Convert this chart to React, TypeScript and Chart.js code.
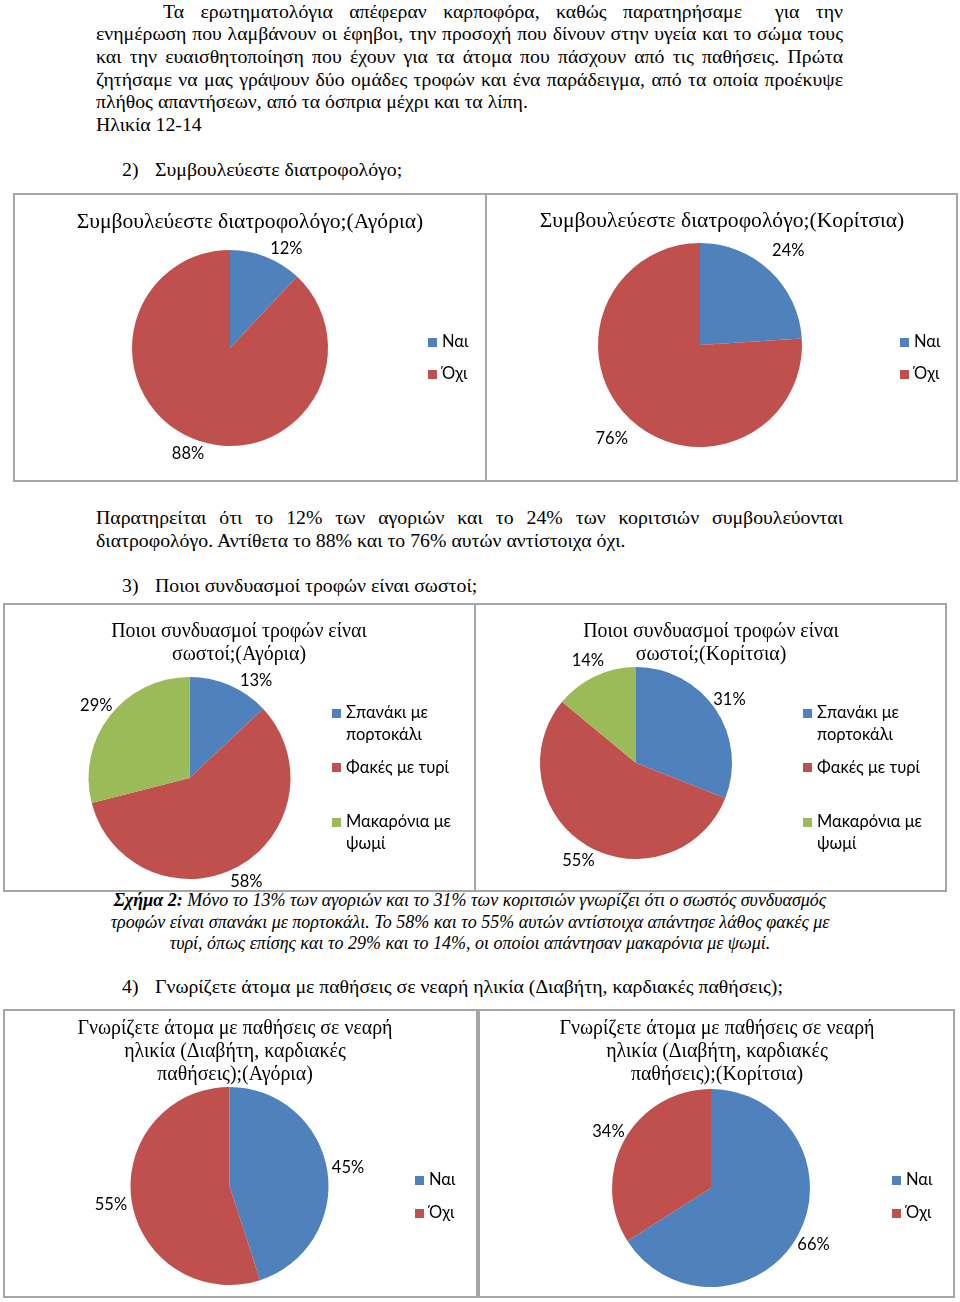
import React, { useEffect, useRef } from 'react';
import { Chart, registerables } from 'chart.js';

Chart.register(...registerables);

// ---------- DATA ----------
const yesNoLabels = ['Ναι', 'Όχι'];
const comboLabels = ['Σπανάκι με πορτοκάλι', 'Φακές με τυρί', 'Μακαρόνια με ψωμί'];

const nutritionistBoys = [12, 88];
const nutritionistGirls = [24, 76];
const comboBoys = [13, 58, 29];
const comboGirls = [31, 55, 14];
const diseaseBoys = [45, 55];
const diseaseGirls = [66, 34];

const introLines = [
  'Τα ερωτηματολόγια απέφεραν καρποφόρα, καθώς παρατηρήσαμε\u00A0 για την',
  'ενημέρωση που λαμβάνουν οι έφηβοι, την προσοχή που δίνουν στην υγεία και το σώμα τους',
  'και την ευαισθητοποίηση που έχουν για τα άτομα που πάσχουν από τις παθήσεις. Πρώτα',
  'ζητήσαμε να μας γράψουν δύο ομάδες τροφών και ένα παράδειγμα, από τα οποία προέκυψε',
  'πλήθος απαντήσεων, από τα όσπρια μέχρι και τα λίπη.',
];
const ageLine = 'Ηλικία 12-14';
const heading2 = 'Συμβουλεύεστε διατροφολόγο;';
const heading3 = 'Ποιοι συνδυασμοί τροφών είναι σωστοί;';
const heading4 = 'Γνωρίζετε άτομα με παθήσεις σε νεαρή ηλικία (Διαβήτη, καρδιακές παθήσεις);';
const noteLines = [
  'Παρατηρείται ότι το 12% των αγοριών και το 24% των κοριτσιών συμβουλεύονται',
  'διατροφολόγο. Αντίθετα το 88% και το 76% αυτών αντίστοιχα όχι.',
];
const captionBold = 'Σχήμα 2:';
const captionLines = [
  ' Μόνο το 13% των αγοριών και το 31% των κοριτσιών γνωρίζει ότι ο σωστός συνδυασμός',
  'τροφών είναι σπανάκι με πορτοκάλι. Το 58% και το 55% αυτών αντίστοιχα απάντησε λάθος φακές με',
  'τυρί, όπως επίσης και το 29% και το 14%, οι οποίοι απάντησαν μακαρόνια με ψωμί.',
];

const titleA = ['Συμβουλεύεστε διατροφολόγο;(Αγόρια)'];
const titleB = ['Συμβουλεύεστε διατροφολόγο;(Κορίτσια)'];
const titleC = ['Ποιοι συνδυασμοί τροφών είναι', 'σωστοί;(Αγόρια)'];
const titleD = ['Ποιοι συνδυασμοί τροφών είναι', 'σωστοί;(Κορίτσια)'];
const titleE = ['Γνωρίζετε άτομα με παθήσεις σε νεαρή', 'ηλικία (Διαβήτη, καρδιακές', 'παθήσεις);(Αγόρια)'];
const titleF = ['Γνωρίζετε άτομα με παθήσεις σε νεαρή', 'ηλικία (Διαβήτη, καρδιακές', 'παθήσεις);(Κορίτσια)'];

// ---------- STYLE ----------
const BLUE = '#4F81BD';
const RED = '#C0504D';
const GREEN = '#9BBB59';
const SERIF = "'Liberation Serif', 'Times New Roman', Times, serif";
const SANS = "Lato, 'Open Sans', sans-serif";
const BODY_SIZE = 19.8;
const LINE_H = 22.7;
const TITLE_LH = 23;
const LABEL_FONT = `16.5px ${SANS}`;

type Box = { x: number; y: number; w: number; h: number };
type PieSpec = {
  title: string[];
  titleSize: number;
  labels: string[];
  values: number[];
  colors: string[];
  box: Box;
  pie: { cx: number; cy: number; r: number };
  titlePos: { x: number; y: number };
  legend: { x: number; y: number; slot: number };
  labelGap: number;
};

// Percentage labels outside each slice, slid along the circle if they would hit the title
const pctLabels = {
  id: 'pctLabels',
  afterDatasetsDraw(chart: any, _args: any, opts: any) {
    const ctx = chart.ctx;
    const meta = chart.getDatasetMeta(0);
    const ds = chart.data.datasets[0];
    ctx.save();
    // title rectangles (canvas coords)
    const rects: { x1: number; x2: number; y1: number; y2: number }[] = [];
    if (opts.title) {
      const t = opts.title;
      ctx.font = t.font;
      t.lines.forEach((line: string, i: number) => {
        const w = ctx.measureText(line).width;
        const yc = t.y + i * t.lh;
        rects.push({ x1: t.x - w / 2, x2: t.x + w / 2, y1: yc - t.lh / 2, y2: yc + t.lh / 2 });
      });
    }
    ctx.font = LABEL_FONT;
    ctx.fillStyle = '#000';
    ctx.textAlign = 'center';
    ctx.textBaseline = 'middle';
    const margin = 8;
    const lh = 16;
    meta.data.forEach((arc: any, i: number) => {
      const p = arc.getProps(['x', 'y', 'startAngle', 'endAngle', 'outerRadius'], true);
      const text = ds.data[i] + '%';
      const w = ctx.measureText(text).width;
      let a = (p.startAngle + p.endAngle) / 2;
      const d = p.outerRadius + (opts.gap ?? 18);
      const dir = Math.cos(a) >= 0 ? 1 : -1;
      const hits = (x: number, y: number) =>
        rects.some(
          (r) =>
            x + w / 2 > r.x1 - 2 &&
            x - w / 2 < r.x2 + 2 &&
            y + lh / 2 > r.y1 - margin &&
            y - lh / 2 < r.y2 + margin
        );
      let x = p.x + Math.cos(a) * d;
      let y = p.y + Math.sin(a) * d;
      let steps = 0;
      while (hits(x, y) && steps < 180) {
        a += dir * (Math.PI / 360);
        x = p.x + Math.cos(a) * d;
        y = p.y + Math.sin(a) * d;
        steps++;
      }
      ctx.fillText(text, x, y);
    });
    ctx.restore();
  },
};

function PieBox({ spec }: { spec: PieSpec }) {
  const ref = useRef<HTMLCanvasElement>(null);
  const { box, pie } = spec;
  useEffect(() => {
    if (!ref.current) return;
    const left = pie.cx - pie.r - box.x;
    const top = pie.cy - pie.r - box.y;
    const chart = new Chart(ref.current, {
      type: 'pie',
      data: {
        labels: spec.labels,
        datasets: [
          {
            data: spec.values,
            backgroundColor: spec.colors,
            borderWidth: 0,
          },
        ],
      },
      options: {
        responsive: false,
        animation: false,
        devicePixelRatio: 1,
        layout: {
          padding: {
            left,
            top,
            right: box.w - left - 2 * pie.r,
            bottom: box.h - top - 2 * pie.r,
          },
        },
        plugins: {
          legend: { display: false },
          title: { display: false },
          tooltip: { enabled: false },
          pctLabels: {
            gap: spec.labelGap,
            title: {
              lines: spec.title,
              font: `${spec.titleSize}px ${SERIF}`,
              x: spec.titlePos.x - box.x,
              y: spec.titlePos.y - box.y,
              lh: TITLE_LH,
            },
          },
        } as any,
      },
      plugins: [pctLabels],
    });
    return () => chart.destroy();
  }, [spec]);

  return (
    <>
      <div
        style={{
          position: 'absolute',
          left: box.x,
          top: box.y,
          width: box.w,
          height: box.h,
          border: '2px solid #a6a6a6',
          boxSizing: 'border-box',
        }}
      />
      <canvas
        ref={ref}
        width={box.w}
        height={box.h}
        style={{ position: 'absolute', left: box.x, top: box.y, width: box.w, height: box.h }}
      />
      {spec.title.map((t, i) => (
        <div
          key={i}
          style={{
            position: 'absolute',
            left: spec.titlePos.x - 250,
            width: 500,
            top: spec.titlePos.y - TITLE_LH / 2 + i * TITLE_LH,
            height: TITLE_LH,
            lineHeight: `${TITLE_LH}px`,
            textAlign: 'center',
            fontFamily: SERIF,
            fontSize: spec.titleSize,
            whiteSpace: 'nowrap',
          }}
        >
          {t}
        </div>
      ))}
      {spec.labels.map((lab, i) => (
        <div
          key={lab}
          style={{
            position: 'absolute',
            left: spec.legend.x,
            top: spec.legend.y - 10.75 + i * spec.legend.slot,
            display: 'flex',
            alignItems: 'flex-start',
            fontFamily: SANS,
            fontSize: 16.5,
            lineHeight: '21.5px',
            color: '#000',
          }}
        >
          <span
            style={{
              display: 'inline-block',
              width: 9,
              height: 9,
              marginTop: 6.5,
              marginRight: 5,
              background: spec.colors[i],
              flex: 'none',
            }}
          />
          <span style={{ width: 118 }}>{lab}</span>
        </div>
      ))}
    </>
  );
}

const specs: PieSpec[] = [
  {
    title: titleA,
    titleSize: 21.6,
    labels: yesNoLabels,
    values: nutritionistBoys,
    colors: [BLUE, RED],
    box: { x: 13, y: 193, w: 474, h: 289 },
    pie: { cx: 230, cy: 348, r: 98 },
    titlePos: { x: 250, y: 221 },
    legend: { x: 428, y: 342, slot: 32 },
    labelGap: 16,
  },
  {
    title: titleB,
    titleSize: 21.6,
    labels: yesNoLabels,
    values: nutritionistGirls,
    colors: [BLUE, RED],
    box: { x: 485, y: 193, w: 473, h: 289 },
    pie: { cx: 700, cy: 345, r: 102 },
    titlePos: { x: 722, y: 220 },
    legend: { x: 900, y: 342, slot: 32 },
    labelGap: 27,
  },
  {
    title: titleC,
    titleSize: 19.9,
    labels: comboLabels,
    values: comboBoys,
    colors: [BLUE, RED, GREEN],
    box: { x: 3, y: 603, w: 473, h: 289 },
    pie: { cx: 189.5, cy: 778, r: 101 },
    titlePos: { x: 239, y: 630 },
    legend: { x: 332, y: 713, slot: 54.5 },
    labelGap: 17,
  },
  {
    title: titleD,
    titleSize: 19.9,
    labels: comboLabels,
    values: comboGirls,
    colors: [BLUE, RED, GREEN],
    box: { x: 474, y: 603, w: 473, h: 289 },
    pie: { cx: 636, cy: 763, r: 96 },
    titlePos: { x: 711, y: 630 },
    legend: { x: 803, y: 713, slot: 54.5 },
    labelGap: 17,
  },
  {
    title: titleE,
    titleSize: 19.9,
    labels: yesNoLabels,
    values: diseaseBoys,
    colors: [BLUE, RED],
    box: { x: 3, y: 1009, w: 475, h: 289 },
    pie: { cx: 229.5, cy: 1186, r: 99 },
    titlePos: { x: 235, y: 1027 },
    legend: { x: 415, y: 1180, slot: 33 },
    labelGap: 21,
  },
  {
    title: titleF,
    titleSize: 19.9,
    labels: yesNoLabels,
    values: diseaseGirls,
    colors: [BLUE, RED],
    box: { x: 478, y: 1009, w: 477, h: 289 },
    pie: { cx: 711, cy: 1188, r: 99 },
    titlePos: { x: 717, y: 1027 },
    legend: { x: 892, y: 1180, slot: 33 },
    labelGap: 18,
  },
];

const lineStyle = (left: number, yc: number, width?: number): React.CSSProperties => ({
  position: 'absolute',
  left,
  top: yc - LINE_H / 2,
  width,
  height: LINE_H,
  lineHeight: `${LINE_H}px`,
  fontFamily: SERIF,
  fontSize: BODY_SIZE,
  color: '#000',
  whiteSpace: width ? 'normal' : 'nowrap',
});

function Justified({ text, left, right, yc }: { text: string; left: number; right: number; yc: number }) {
  return (
    <div style={{ ...lineStyle(left, yc, right - left), textAlign: 'justify', textAlignLast: 'justify' as any }}>
      {text}
    </div>
  );
}

export default function App() {
  const introY = [11, 33.5, 56, 79, 101.5];
  return (
    <div
      style={{
        position: 'absolute',
        left: 0,
        top: 0,
        width: 960,
        height: 1302,
        background: '#fff',
        overflow: 'hidden',
      }}
    >
      <Justified text={introLines[0]} left={163} right={843} yc={introY[0]} />
      <Justified text={introLines[1]} left={96} right={843} yc={introY[1]} />
      <Justified text={introLines[2]} left={96} right={843} yc={introY[2]} />
      <Justified text={introLines[3]} left={96} right={843} yc={introY[3]} />
      <div style={lineStyle(96, introY[4])}>{introLines[4]}</div>
      <div style={lineStyle(96, 124)}>{ageLine}</div>

      <div style={lineStyle(122, 169)}>2)</div>
      <div style={lineStyle(155, 169)}>{heading2}</div>

      <Justified text={noteLines[0]} left={96} right={843} yc={517} />
      <div style={lineStyle(96, 540.5)}>{noteLines[1]}</div>

      <div style={lineStyle(122, 585)}>3)</div>
      <div style={lineStyle(155, 585)}>{heading3}</div>

      {captionLines.map((t, i) => (
        <div
          key={i}
          style={{
            ...lineStyle(70, 901 + i * 21.5, 800),
            height: 21.5,
            lineHeight: '21.5px',
            top: 901 + i * 21.5 - 10.75,
            textAlign: 'center',
            fontStyle: 'italic',
            fontSize: 18,
            whiteSpace: 'nowrap',
          }}
        >
          {i === 0 ? <b>{captionBold}</b> : null}
          {t}
        </div>
      ))}

      <div style={lineStyle(122, 986)}>4)</div>
      <div style={lineStyle(155, 986)}>{heading4}</div>

      {specs.map((s, i) => (
        <PieBox key={i} spec={s} />
      ))}
    </div>
  );
}
